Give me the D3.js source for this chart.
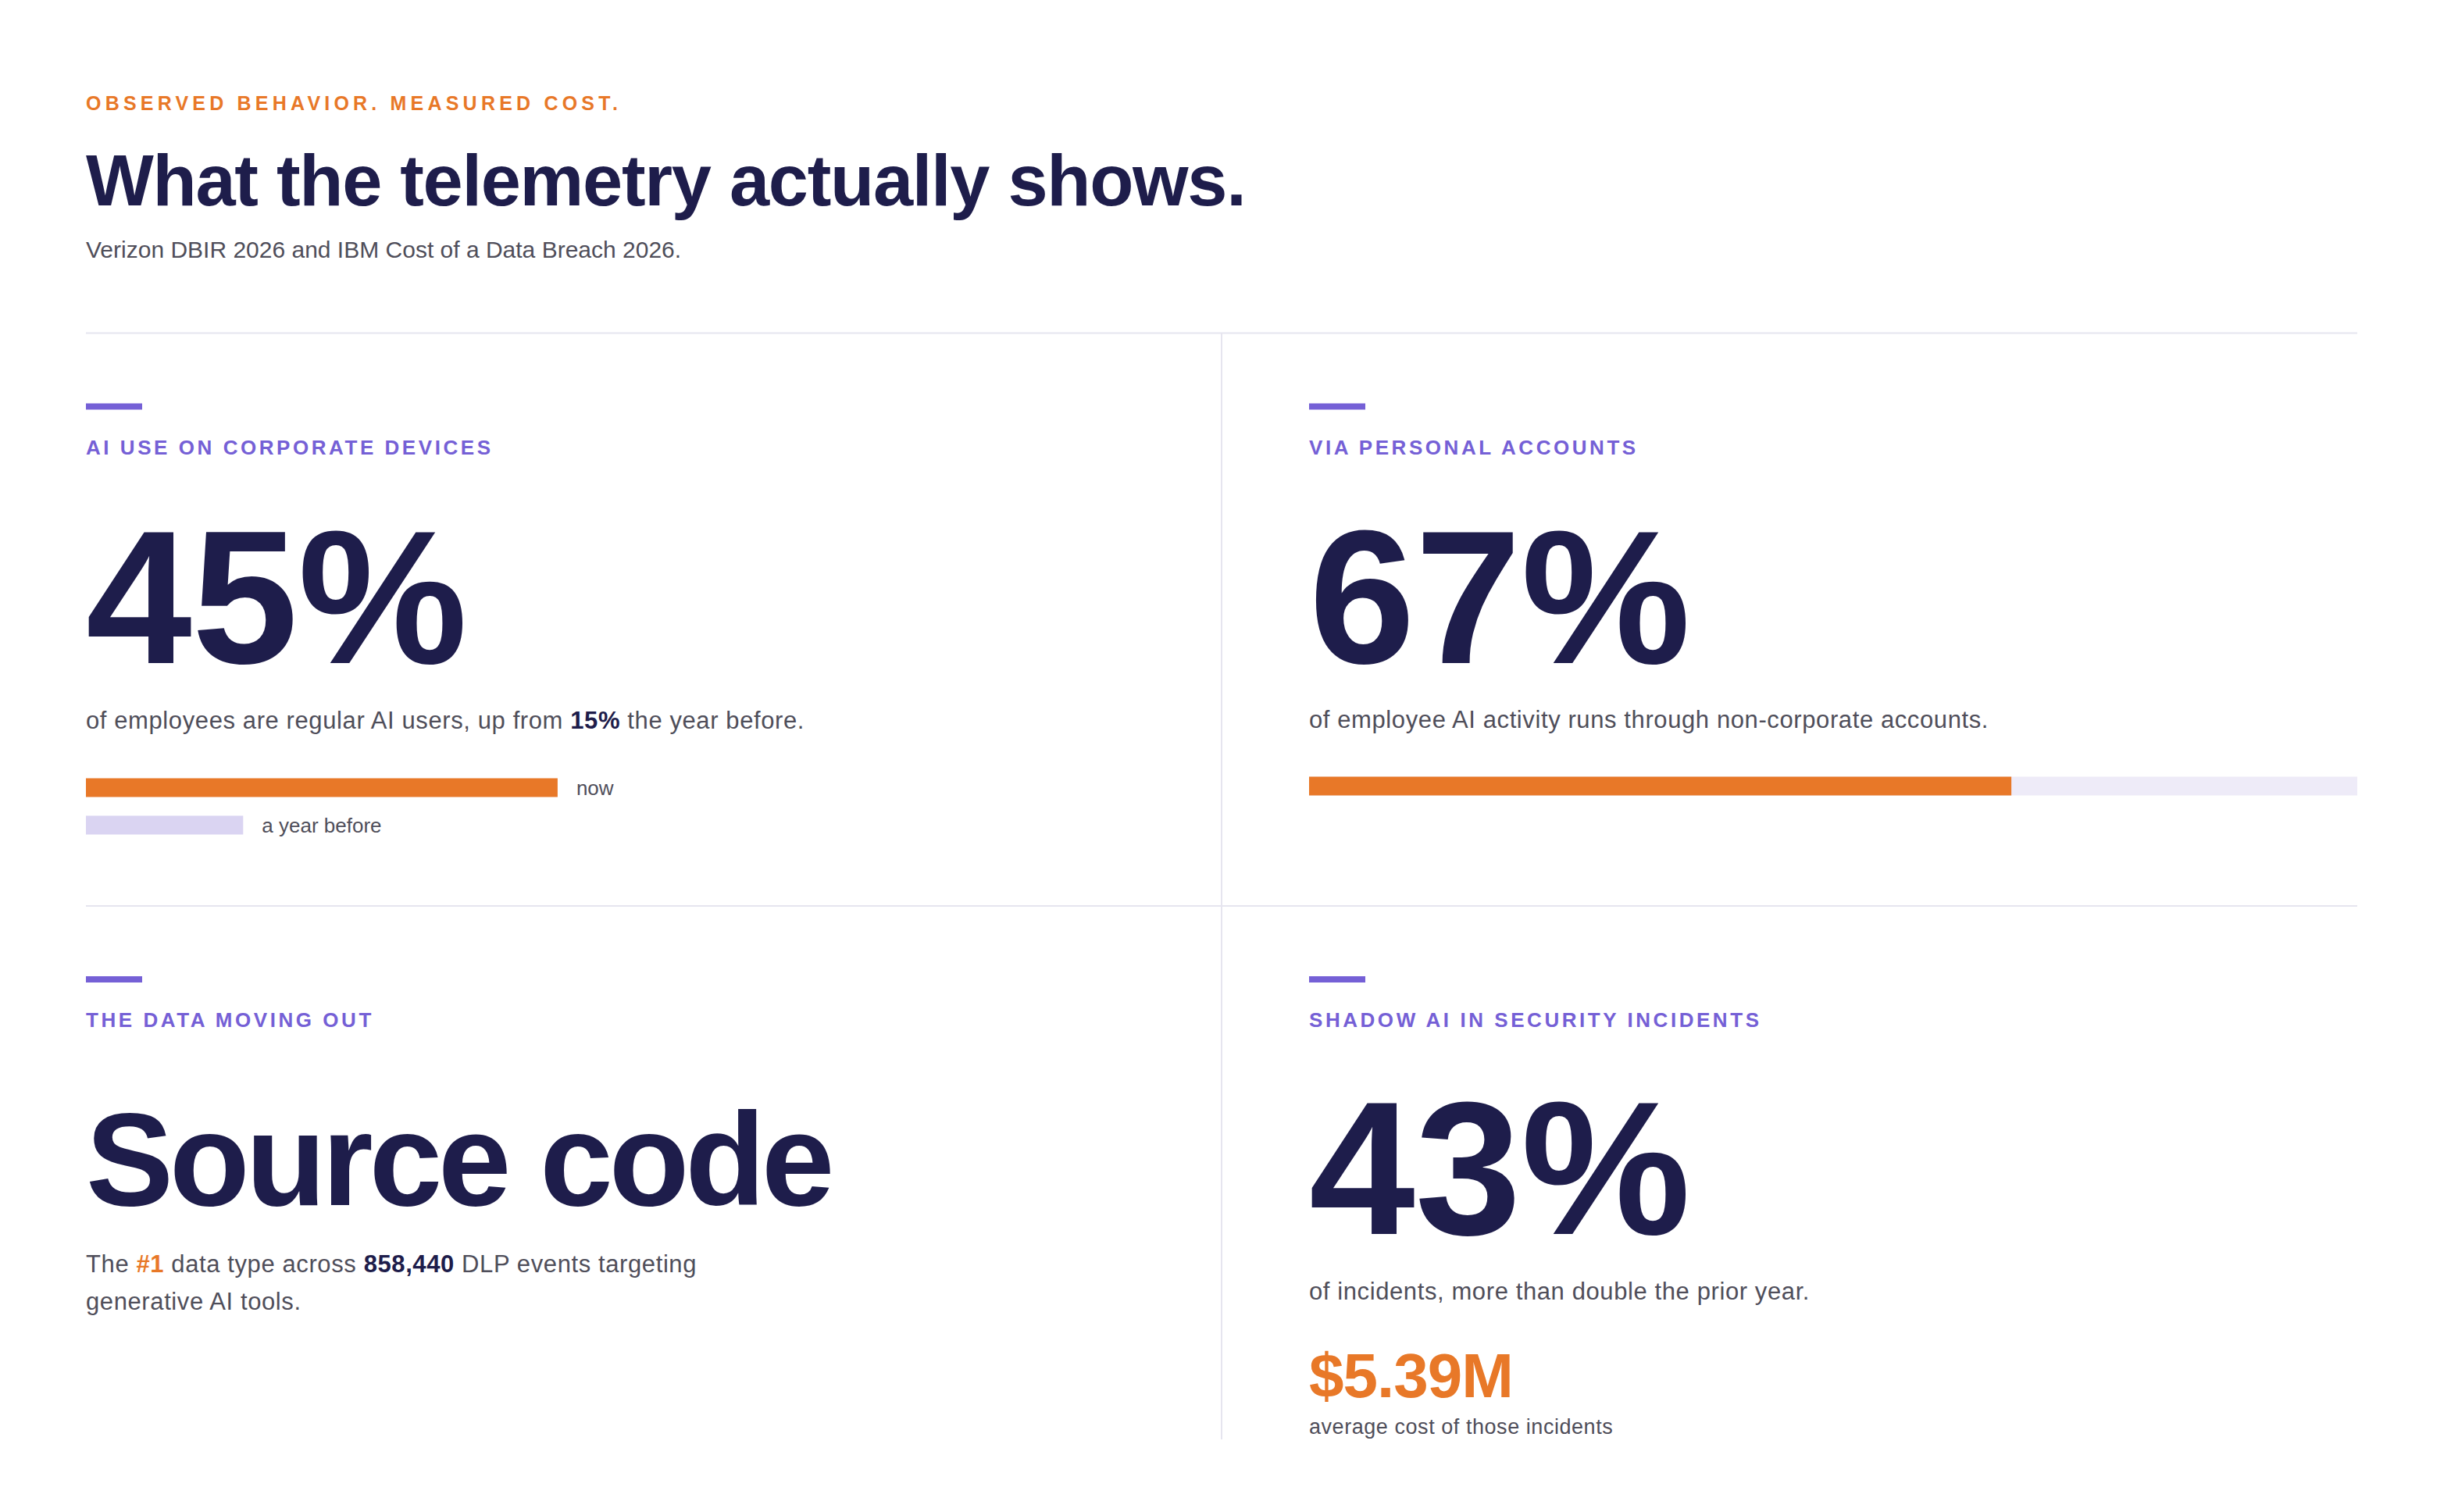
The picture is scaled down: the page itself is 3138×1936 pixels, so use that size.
<!DOCTYPE html>
<html>
<head>
<meta charset="utf-8">
<script src="https://cdn.jsdelivr.net/npm/d3@7"></script>
<style>
  html, body { margin: 0; padding: 0; background: #ffffff; }
  svg text { font-family: "Liberation Sans", Arial, Helvetica, sans-serif; }
</style>
</head>
<body>
<svg id="chart"></svg>
<script>
// ---- data ----
var eyebrow = "OBSERVED BEHAVIOR. MEASURED COST.";
var title = "What the telemetry actually shows.";
var subtitle = "Verizon DBIR 2026 and IBM Cost of a Data Breach 2026.";

var panelLabels = [
    "AI USE ON CORPORATE DEVICES",
    "VIA PERSONAL ACCOUNTS",
    "THE DATA MOVING OUT",
    "SHADOW AI IN SECURITY INCIDENTS"
];
var headlines = ["45%", "67%", "Source code", "43%"];

// each description is a list of lines, each line a list of [text, emphasis]
var descriptions = [
    [[["of employees are regular AI users, up from ", ""], ["15%", "navy"], [" the year before.", ""]]],
    [[["of employee AI activity runs through non-corporate accounts.", ""]]],
    [[["The ", ""], ["#1", "orange"], [" data type across ", ""], ["858,440", "navy"], [" DLP events targeting", ""]],
     [["generative AI tools.", ""]]],
    [[["of incidents, more than double the prior year.", ""]]]
];

// AI use on corporate devices, percent of employees
var corporateSeries = ["now", "a year before"];
var corporateValues = [45, 15];

// AI activity through personal accounts, percent
var personalValues = [67];

var costFigure = "$5.39M";
var costCaption = "average cost of those incidents";

// ---- look ----
var W = 3138, H = 1936;
var navy = "#1e1d4b", orange = "#e87828", purple = "#7560d6",
    gray = "#4f4e5a", rule = "#e6e5ef", lavender = "#dad4f2", track = "#eeebf8";

var left = 110, right = 3018;
var colW = (right - left) / 2;
var pad = 112;
var contentW = colW - pad;
var rowTops = [426.5, 1160];
var gridBottom = 1843;

// where each panel's content sits, relative to its row top
var panelLayout = [
    { headSize: 244, headSpacing: 0, headY: 422, descY: 506 },
    { headSize: 244, headSpacing: 0, headY: 422, descY: 505 },
    { headSize: 168, headSpacing: -5, headY: 383, descY: 469 },
    { headSize: 244, headSpacing: 0, headY: 420, descY: 504 }
];

var svg = d3.select("#chart")
    .attr("width", W)
    .attr("height", H)
    .attr("viewBox", "0 0 " + W + " " + H);

svg.append("rect").attr("width", W).attr("height", H).attr("fill", "#fff");

// header
svg.append("text")
    .attr("x", left).attr("y", 141)
    .attr("fill", orange)
    .style("font-size", "25px").style("font-weight", 700)
    .style("letter-spacing", "5.2px")
    .text(eyebrow);

svg.append("text")
    .attr("x", left).attr("y", 263)
    .attr("fill", navy)
    .style("font-size", "92px").style("font-weight", 700)
    .style("letter-spacing", "-1.3px")
    .text(title);

svg.append("text")
    .attr("x", left).attr("y", 330)
    .attr("fill", gray)
    .style("font-size", "30px")
    .text(subtitle);

// grid rules
svg.selectAll(".hrule")
    .data(rowTops)
    .enter().append("line")
    .attr("class", "hrule")
    .attr("x1", left).attr("x2", right)
    .attr("y1", function(d) { return d; })
    .attr("y2", function(d) { return d; })
    .attr("stroke", rule).attr("stroke-width", 2);

svg.append("line")
    .attr("x1", left + colW).attr("x2", left + colW)
    .attr("y1", rowTops[0]).attr("y2", gridBottom)
    .attr("stroke", rule).attr("stroke-width", 2);

// bar scale, shared by both bar panels
var x = d3.scaleLinear().domain([0, 100]).range([0, contentW]);

function panelOrigin(i) {
    var col = i % 2, row = Math.floor(i / 2);
    return [left + col * (colW + pad), rowTops[row]];
}

var panels = svg.selectAll(".panel")
    .data(panelLabels)
    .enter().append("g")
    .attr("class", "panel")
    .attr("transform", function(d, i) {
        return "translate(" + panelOrigin(i) + ")";
    });

// accent dash
panels.append("rect")
    .attr("x", 0).attr("y", 90)
    .attr("width", 72).attr("height", 8)
    .attr("fill", purple);

panels.append("text")
    .attr("x", 0).attr("y", 155)
    .attr("fill", purple)
    .style("font-size", "26px").style("font-weight", 700)
    .style("letter-spacing", "3.55px")
    .text(function(d) { return d; });

panels.append("text")
    .attr("x", 0)
    .attr("y", function(d, i) { return panelLayout[i].headY; })
    .attr("fill", navy)
    .style("font-size", function(d, i) { return panelLayout[i].headSize + "px"; })
    .style("font-weight", 700)
    .style("letter-spacing", function(d, i) { return panelLayout[i].headSpacing + "px"; })
    .text(function(d, i) { return headlines[i]; });

// descriptions with emphasised runs
panels.each(function(d, i) {
    var g = d3.select(this);
    var t = g.append("text")
        .attr("x", 0)
        .attr("y", panelLayout[i].descY)
        .attr("fill", gray)
        .style("font-size", "31px")
        .style("letter-spacing", "0.6px");
    descriptions[i].forEach(function(line, li) {
        line.forEach(function(run, ri) {
            var ts = t.append("tspan").text(run[0]);
            if (ri === 0) ts.attr("x", 0).attr("dy", li === 0 ? 0 : 48);
            if (run[1] === "navy") ts.attr("fill", navy).style("font-weight", 700);
            if (run[1] === "orange") ts.attr("fill", orange).style("font-weight", 700);
        });
    });
});

// panel 1: now vs a year before (bars 24 tall, 24 apart)
var p1 = d3.select(panels.nodes()[0]);
var y1 = d3.scaleBand().domain(corporateSeries).range([570, 570 + 72]).paddingInner(0.5).paddingOuter(0);

p1.selectAll(".cbar")
    .data(corporateValues)
    .enter().append("rect")
    .attr("class", "cbar")
    .attr("x", x(0))
    .attr("y", function(d, i) { return y1(corporateSeries[i]); })
    .attr("width", function(d) { return x(d); })
    .attr("height", y1.bandwidth())
    .attr("fill", function(d, i) { return i === 0 ? orange : lavender; });

p1.selectAll(".clabel")
    .data(corporateValues)
    .enter().append("text")
    .attr("class", "clabel")
    .attr("x", function(d) { return x(d) + 24; })
    .attr("y", function(d, i) { return y1(corporateSeries[i]) + y1.bandwidth() / 2; })
    .attr("dy", "0.35em")
    .attr("fill", gray)
    .style("font-size", "26px")
    .text(function(d, i) { return corporateSeries[i]; });

// panel 2: share of a full track
var p2 = d3.select(panels.nodes()[1]);
p2.append("rect")
    .attr("x", x(0)).attr("y", 568)
    .attr("width", x(100)).attr("height", 24)
    .attr("fill", track);
p2.selectAll(".pbar")
    .data(personalValues)
    .enter().append("rect")
    .attr("class", "pbar")
    .attr("x", x(0)).attr("y", 568)
    .attr("width", function(d) { return x(d); })
    .attr("height", 24)
    .attr("fill", orange);

// panel 4: cost figure
var p4 = d3.select(panels.nodes()[3]);
p4.append("text")
    .attr("x", 0).attr("y", 629)
    .attr("fill", orange)
    .style("font-size", "80px").style("font-weight", 700)
    .style("letter-spacing", "-1.0px")
    .text(costFigure);
p4.append("text")
    .attr("x", 0).attr("y", 676)
    .attr("fill", gray)
    .style("font-size", "27px")
    .style("letter-spacing", "0.55px")
    .text(costCaption);
</script>
</body>
</html>
